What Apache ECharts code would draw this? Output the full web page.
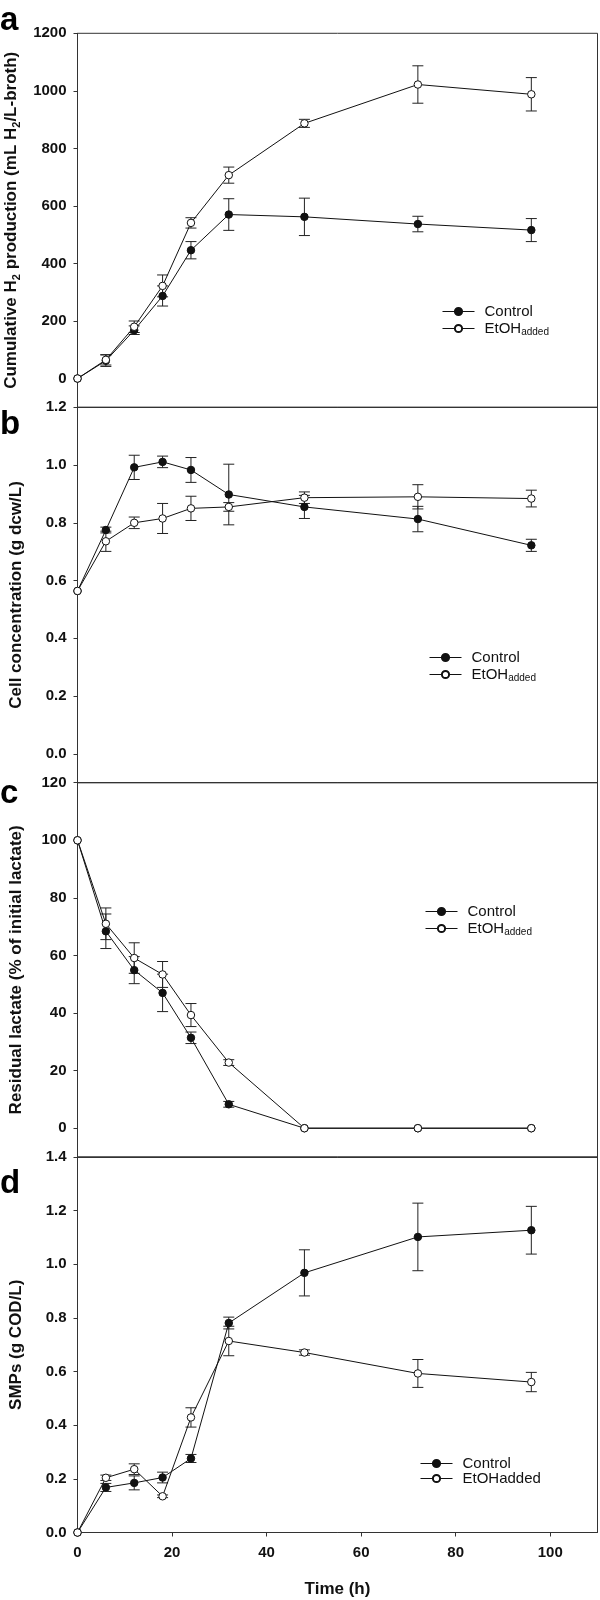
<!DOCTYPE html>
<html><head><meta charset="utf-8">
<script src="https://cdn.jsdelivr.net/npm/echarts@6/dist/echarts.min.js"></script>
<style>html,body{margin:0;padding:0;background:#fff}#c{width:600px;height:1600px}</style>
</head><body><div id="c"></div>
<script>
// ---- data (time in h) ----
const time = [0, 6, 12, 18, 24, 32, 48, 72, 96];

const h2Control      = [0, 62, 168, 287, 446, 570, 562, 537, 516];
const h2ControlErr   = [0, 20, 15, 35, 30, 55, 65, 27, 40];
const h2Ethanol      = [0, 65, 180, 322, 541, 707, 887, 1022, 988];
const h2EthanolErr   = [0, 18, 20, 38, 18, 28, 14, 65, 58];

const cellControl    = [0.564, 0.775, 0.992, 1.011, 0.983, 0.898, 0.855, 0.813, 0.722];
const cellControlErr = [0, 0.01, 0.042, 0.02, 0.043, 0.105, 0.04, 0.044, 0.021];
const cellEthanol    = [0.564, 0.736, 0.80, 0.815, 0.85, 0.855, 0.887, 0.89, 0.884];
const cellEthanolErr = [0, 0.035, 0.02, 0.052, 0.042, 0.015, 0.02, 0.042, 0.029];

const lacControl     = [100, 68.4, 54.9, 47.0, 31.4, 8.3, 0, 0, 0];
const lacControlErr  = [0, 6, 4.7, 6.5, 2, 1, 0, 0, 0];
const lacEthanol     = [100, 71, 59.1, 53.4, 39.3, 22.8, 0, 0, 0];
const lacEthanolErr  = [0, 5.5, 5.3, 4.5, 4, 1, 0, 0, 0];

const smpControl     = [0, 0.168, 0.185, 0.205, 0.276, 0.781, 0.968, 1.102, 1.127];
const smpControlErr  = [0, 0.015, 0.026, 0.02, 0.015, 0.022, 0.086, 0.126, 0.089];
const smpEthanol     = [0, 0.204, 0.236, 0.135, 0.429, 0.714, 0.671, 0.593, 0.561];
const smpEthanolErr  = [0, 0.01, 0.02, 0.005, 0.036, 0.055, 0.01, 0.052, 0.036];

const xTicks = [0, 20, 40, 60, 80, 100];
const h2Ticks = [0, 200, 400, 600, 800, 1000, 1200];
const cellTicks = [0, 0.2, 0.4, 0.6, 0.8, 1.0, 1.2];
const lacTicks = [0, 20, 40, 60, 80, 100, 120];
const smpTicks = [0, 0.2, 0.4, 0.6, 0.8, 1.0, 1.2, 1.4];

const panelLetters = ['a', 'b', 'c', 'd'];
const seriesNames = ['Control', 'EtOHadded'];

// ---- layout ----
const FF = '"Liberation Sans", Arial, Helvetica, sans-serif';
const INK = '#111';
const FRAME = '#333';
const gridLeft = 77.5, gridWidth = 520;
const grids = [
  {top: 33.3, bottom: 407.3},
  {top: 407.3, bottom: 782.7},
  {top: 782.7, bottom: 1157},
  {top: 1157, bottom: 1532.5}
];
const yRanges = [[-100, 1200], [-0.1, 1.2], [-10, 120], [0, 1.4]];
const yTicks = [h2Ticks, cellTicks, lacTicks, smpTicks];
const yFmt = [v => String(v), v => v.toFixed(1), v => String(v), v => v.toFixed(1)];
const yNames = [
  '{m|Cumulative H}{s|2}{m| production (mL H}{s|2}{m|/L-broth)}',
  '{m|Cell concentration (g dcw/L)}',
  '{m|Residual lactate (% of initial lactate)}',
  '{m|SMPs (g COD/L)}'
];
const legendPos = [[442, 304], [429, 650], [425, 904], [420, 1456]];
const letterY = [20.5, 425, 793.5, 1183.5];

const nameRich = {
  m: {fontSize: 17, fontWeight: 'bold', fontFamily: FF, color: INK, lineHeight: 22},
  s: {fontSize: 11, fontWeight: 'bold', fontFamily: FF, color: INK, lineHeight: 11, verticalAlign: 'bottom'}
};
const legRich = {
  m: {fontSize: 15, fontFamily: FF, color: INK, lineHeight: 18},
  s: {fontSize: 10, fontFamily: FF, color: INK, lineHeight: 10, verticalAlign: 'bottom'}
};

function errRender(params, api) {
  const e = api.value(3);
  if (!e) return null;
  const x = api.value(0);
  const top = api.coord([x, api.value(2)]);
  const bot = api.coord([x, api.value(1)]);
  const w = 5.5;
  const st = {stroke: '#222', lineWidth: 1};
  return {type: 'group', children: [
    {type: 'line', shape: {x1: top[0], y1: top[1], x2: bot[0], y2: bot[1]}, style: st},
    {type: 'line', shape: {x1: top[0] - w, y1: top[1], x2: top[0] + w, y2: top[1]}, style: st},
    {type: 'line', shape: {x1: bot[0] - w, y1: bot[1], x2: bot[0] + w, y2: bot[1]}, style: st}
  ]};
}

const panels = [
  [h2Control, h2ControlErr, h2Ethanol, h2EthanolErr],
  [cellControl, cellControlErr, cellEthanol, cellEthanolErr],
  [lacControl, lacControlErr, lacEthanol, lacEthanolErr],
  [smpControl, smpControlErr, smpEthanol, smpEthanolErr]
];

const grid = [], xAxis = [], yAxis = [], series = [], legend = [], graphic = [];
panels.forEach((p, i) => {
  const g = grids[i];
  grid.push({left: gridLeft, width: gridWidth, top: g.top, height: g.bottom - g.top,
    containLabel: false, outerBoundsMode: 'none',
    show: true, borderColor: FRAME, borderWidth: 1, backgroundColor: 'transparent'});
  const isLast = i === 3;
  xAxis.push({
    type: 'value', gridIndex: i, min: 0, max: 110,
    splitLine: {show: false},
    axisLine: {show: true, onZero: false, lineStyle: {color: FRAME, width: 1}},
    axisTick: {show: isLast, length: 4, customValues: xTicks, lineStyle: {color: FRAME}},
    axisLabel: {show: isLast, customValues: xTicks, margin: 13, fontSize: 15, fontWeight: 'bold', fontFamily: FF, color: INK},
    name: isLast ? 'Time (h)' : '', nameLocation: 'middle', nameGap: 48,
    nameTextStyle: {fontSize: 17, fontWeight: 'bold', fontFamily: FF, color: INK}
  });
  yAxis.push({
    type: 'value', gridIndex: i, min: yRanges[i][0], max: yRanges[i][1],
    splitLine: {show: false},
    axisLine: {show: true, onZero: false, lineStyle: {color: FRAME, width: 1}},
    axisTick: {show: true, length: 4, customValues: yTicks[i], lineStyle: {color: FRAME}},
    axisLabel: {customValues: yTicks[i], formatter: yFmt[i], margin: 11, fontSize: 15, fontWeight: 'bold', fontFamily: FF, color: INK},
    name: yNames[i], nameLocation: 'middle', nameGap: i === 0 ? 52 : 50, nameRotate: 90,
    nameTextStyle: {fontSize: 17, fontWeight: 'bold', fontFamily: FF, color: INK, rich: nameRich}
  });
  const [c, ce, e, ee] = p;
  series.push({type: 'custom', xAxisIndex: i, yAxisIndex: i, z: 1, silent: true,
    encode: {x: 0, y: [1, 2]}, renderItem: errRender,
    data: time.map((t, k) => [t, c[k] - ce[k], c[k] + ce[k], ce[k]])});
  series.push({type: 'custom', xAxisIndex: i, yAxisIndex: i, z: 1, silent: true,
    encode: {x: 0, y: [1, 2]}, renderItem: errRender,
    data: time.map((t, k) => [t, e[k] - ee[k], e[k] + ee[k], ee[k]])});
  series.push({type: 'line', name: seriesNames[0], xAxisIndex: i, yAxisIndex: i, z: 3,
    data: time.map((t, k) => [t, c[k]]), symbol: 'circle', symbolSize: 7.5, showSymbol: true,
    lineStyle: {color: INK, width: 1}, itemStyle: {color: INK, borderColor: INK, borderWidth: 1}});
  series.push({type: 'line', name: seriesNames[1], xAxisIndex: i, yAxisIndex: i, z: 4,
    data: time.map((t, k) => [t, e[k]]), symbol: 'circle', symbolSize: 7.5, showSymbol: true,
    lineStyle: {color: INK, width: 1}, itemStyle: {color: '#fff', borderColor: INK, borderWidth: 1}});
  legend.push({
    left: legendPos[i][0], top: legendPos[i][1], orient: 'vertical', padding: 0,
    itemWidth: 32, itemHeight: 9, itemGap: isLast ? 0 : 2, selectedMode: false,
    data: seriesNames,
    lineStyle: {width: 1, color: INK},
    formatter: name => (name === 'EtOHadded' && !isLast) ? '{m|EtOH}{s|added}' : '{m|' + name + '}',
    textStyle: {fontSize: 15, fontFamily: FF, color: INK, padding: [0, 0, 0, 5], rich: legRich}
  });
  graphic.push({type: 'text', x: 0, y: letterY[i], silent: true,
    style: {text: panelLetters[i], font: 'bold 33px ' + FF, fill: '#000', verticalAlign: 'middle', align: 'left'}});
});

const chart = echarts.init(document.getElementById('c'), null, {renderer: 'canvas'});
chart.setOption({
  animation: false,
  backgroundColor: '#fff',
  grid, xAxis, yAxis, series, legend, graphic
});
</script>
</body></html>
